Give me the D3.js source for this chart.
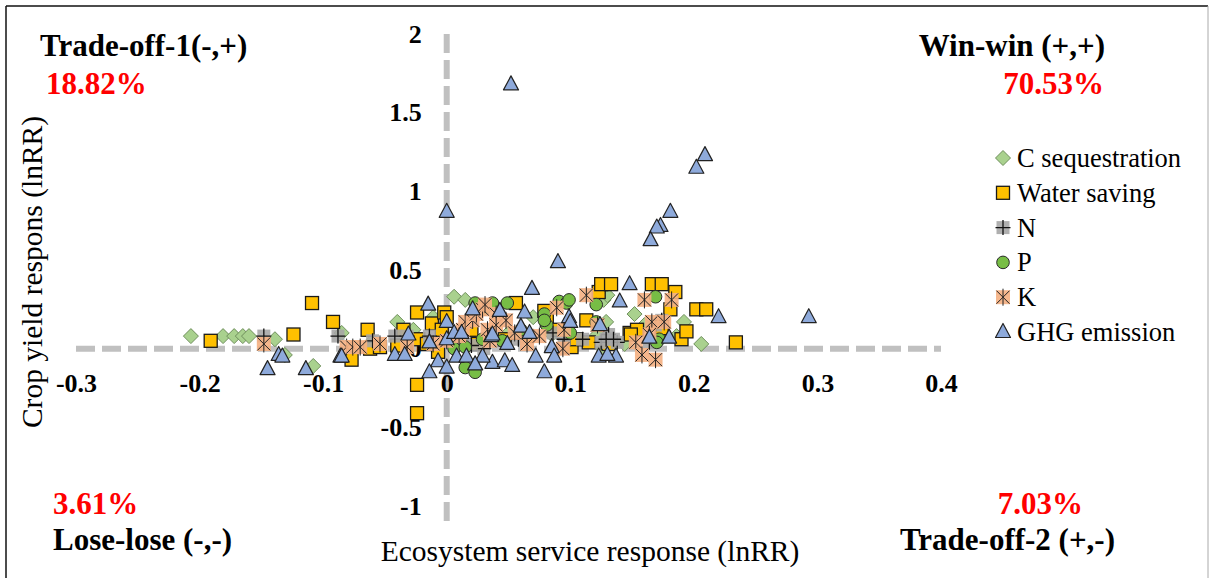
<!DOCTYPE html>
<html>
<head>
<meta charset="utf-8">
<script src="https://cdn.jsdelivr.net/npm/d3@7"></script>
<style>
body { margin: 0; background: #fff; }
</style>
</head>
<body>
<svg id="chart" width="1210" height="578"></svg>
<script>
// series names + values [lnRR ecosystem, lnRR yield]
var seriesNames = ['C sequestration', 'Water saving', 'N', 'P', 'K', 'GHG emission'];

var cSeq = [[-0.207,0.08],[-0.181,0.08],[-0.172,0.08],[-0.165,0.08],[-0.16,0.08],[-0.139,0.06],[-0.131,-0.04],[-0.108,-0.11],
    [-0.085,0.1],[-0.04,0.17],[-0.027,0.12],[-0.011,0.2],[0.006,0.33],[0.015,0.31],[0.03,0.05],[0.05,0.1],[0.085,0.09],
    [0.096,0.12],[0.122,0.09],[0.127,0.31],[0.13,0.34],[0.129,0.17],[0.144,0.03],[0.152,0.22],[0.16,0.15],[0.186,0.08],
    [0.192,0.17],[0.206,0.03],[0.127,0.0],[0.07,0.2],[-0.06,0.05]];

var water = [[-0.191,0.05],[-0.124,0.09],[-0.109,0.29],[-0.092,0.17],[-0.077,-0.07],[-0.064,0.12],[-0.062,0.0],[-0.054,0.01],
    [-0.035,0.12],[-0.024,0.23],[-0.023,0.06],[-0.024,-0.23],[-0.024,-0.41],[-0.012,0.16],[-0.004,0.12],[-0.002,0.23],
    [-0.007,-0.02],[-0.016,0.03],[0.0,0.2],[0.012,0.05],[0.025,0.03],[0.047,0.06],[0.056,0.29],[0.079,0.24],[0.081,0.18],
    [0.101,0.01],[0.105,0.06],[0.113,0.18],[0.115,0.04],[0.123,0.36],[0.125,0.41],[0.133,0.41],[0.131,0.03],[0.148,0.10],
    [0.154,0.12],[0.149,0.09],[0.166,0.41],[0.174,0.41],[0.174,0.13],[0.185,0.36],[0.181,0.25],[0.19,0.06],[0.194,0.11],
    [0.202,0.25],[0.21,0.25],[0.234,0.04],[0.02,0.12],[0.065,0.08],[0.09,0.12],[-0.04,0.02]];

var nitro = [[-0.148,0.08],[-0.088,0.08],[-0.042,0.08],[-0.032,0.08],[-0.014,0.08],[0.007,0.06],[0.03,0.0],[0.058,0.06],
    [0.086,0.1],[0.095,0.06],[0.11,0.06],[0.125,0.04],[0.131,0.09],[0.138,0.04],[0.129,0.06],[0.135,0.06],[0.169,0.15],
    [0.174,0.18],[0.164,0.04],[-0.06,0.05],[0.02,0.02]];

var phos = [[0.023,0.29],[0.037,0.29],[0.049,0.29],[0.006,0.0],[0.015,0.01],[0.015,-0.12],[0.023,-0.15],[0.029,0.06],
    [0.045,0.05],[0.079,0.22],[0.081,0.15],[0.079,0.18],[0.091,0.3],[0.097,0.29],[0.099,0.31],[0.121,0.17],[0.121,0.28],
    [0.169,0.33],[0.172,0.06],[0.17,0.04],[0.06,0.12],[0.1,0.1],[0.03,0.25]];

var potas = [[-0.148,0.03],[-0.081,0.01],[-0.076,0.01],[-0.07,0.01],[-0.054,0.03],[-0.032,0.01],[-0.011,0.03],[0.013,0.12],
    [0.015,0.17],[0.021,0.18],[0.024,0.22],[0.029,0.25],[0.031,0.28],[0.033,0.12],[0.04,0.22],[0.04,0.15],[0.048,0.18],
    [0.035,0.05],[0.065,0.03],[0.089,0.26],[0.095,0.12],[0.094,0.0],[0.075,0.08],[0.113,0.34],[0.122,0.15],[0.16,0.31],
    [0.182,0.31],[0.166,0.17],[0.176,0.17],[0.164,0.09],[0.153,0.04],[0.158,-0.04],[0.169,-0.07],[0.0,0.05],[0.055,0.1],[0.01,0.08]];

var ghg = [[0.052,1.68],[0.0,0.87],[0.09,0.55],[0.209,1.23],[0.202,1.15],[0.181,0.87],[0.173,0.78],[0.170,0.77],[0.165,0.69],
    [0.293,0.20],[0.220,0.20],[0.14,0.30],[0.148,0.41],[0.164,0.07],[0.18,0.07],[0.137,-0.05],[0.123,-0.05],[0.124,0.15],
    [0.069,0.38],[0.043,0.24],[0.063,0.23],[0.06,0.14],[0.067,0.10],[0.036,0.08],[0.049,0.03],[0.037,-0.09],[0.047,-0.08],
    [0.053,-0.11],[0.072,-0.05],[0.079,-0.15],[0.085,0.01],[0.087,-0.05],[0.099,0.20],[0.1,0.17],[-0.015,0.28],[-0.086,-0.05],
    [-0.042,-0.04],[-0.034,-0.04],[-0.031,0.09],[-0.014,0.04],[0,0.17],[0,0.06],[-0.007,-0.08],[-0.014,-0.15],[0,-0.12],
    [0.006,0.10],[0.012,0.10],[0.008,-0.05],[0.016,-0.05],[0.029,-0.05],[0.023,-0.1],[0.037,0.09],[-0.136,-0.04],
    [-0.133,-0.05],[-0.145,-0.13],[-0.114,-0.13],[-0.085,-0.05],[0.021,0.25],[0.13,-0.04]];

var xTicks = [-0.3, -0.2, -0.1, 0, 0.1, 0.2, 0.3, 0.4];
var yTicks = [-1, -0.5, 0, 0.5, 1, 1.5, 2];

var quadrants = [
    {name: 'Trade-off-1(-,+)', pct: '18.82%'},
    {name: 'Win-win (+,+)', pct: '70.53%'},
    {name: 'Lose-lose (-,-)', pct: '3.61%'},
    {name: 'Trade-off-2 (+,-)', pct: '7.03%'}
];

var serif = '"Liberation Serif", "Times New Roman", serif';

var svg = d3.select('#chart');

var x = d3.scaleLinear().domain([-0.3, 0.4]).range([76, 941]);
var y = d3.scaleLinear().domain([-1, 2]).range([506, 34]);

// outer frame
svg.append('line').attr('x1', 6).attr('x2', 1208).attr('y1', 6).attr('y2', 6).attr('stroke', '#111').attr('stroke-width', 1.5);
svg.append('line').attr('x1', 6).attr('x2', 6).attr('y1', 6).attr('y2', 580).attr('stroke', '#111').attr('stroke-width', 1.5);
svg.append('line').attr('x1', 1208).attr('x2', 1208).attr('y1', 6).attr('y2', 580).attr('stroke', '#aaa').attr('stroke-width', 1);

// dashed zero lines
var dashStyle = function(sel) {
    sel.attr('stroke', '#c0c0c0').attr('stroke-width', 6).attr('stroke-dasharray', '19,7');
};
svg.append('line').attr('x1', x(-0.3)).attr('x2', x(0.4)).attr('y1', y(0)).attr('y2', y(0)).call(dashStyle);
svg.append('line').attr('x1', x(0)).attr('x2', x(0)).attr('y1', y(2)).attr('y2', y(-1.12)).call(dashStyle);

// tick labels (no axis lines, Excel style)
var fmt = function(d) { return String(d); };
var gx = svg.append('g').attr('transform', 'translate(0,' + y(0) + ')')
    .call(d3.axisBottom(x).tickValues(xTicks).tickFormat(fmt).tickSize(0).tickPadding(25));
var gy = svg.append('g').attr('transform', 'translate(' + x(0) + ',0)')
    .call(d3.axisLeft(y).tickValues(yTicks).tickFormat(fmt).tickSize(0).tickPadding(25));
[gx, gy].forEach(function(g) {
    g.attr('font-family', null).attr('font-size', null);
    g.select('.domain').remove();
    g.selectAll('text').attr('fill', '#000').style('font-family', serif)
        .style('font-size', '26px').style('font-weight', 'bold');
});

// marker drawing
var colors = {
    diamond: ['#a9d18e', '#6f8f5c'],
    square: ['#ffc000', '#1a1a1a'],
    plus: ['#a6a6a6', '#111'],
    circle: ['#77bd45', '#2a2a2a'],
    star: ['#f4b183', '#222'],
    tri: ['#8eaadb', '#222']
};

function drawMarker(g, type, cx, cy) {
    var c = colors[type];
    if (type === 'diamond') {
        g.append('path').attr('d', 'M' + cx + ',' + (cy - 7.5) + 'L' + (cx + 7.5) + ',' + cy + 'L' + cx + ',' + (cy + 7.5) + 'L' + (cx - 7.5) + ',' + cy + 'Z')
            .attr('fill', c[0]).attr('stroke', c[1]).attr('stroke-width', 1);
    } else if (type === 'square') {
        g.append('rect').attr('x', cx - 6.5).attr('y', cy - 6.5).attr('width', 13).attr('height', 13)
            .attr('fill', c[0]).attr('stroke', c[1]).attr('stroke-width', 1.3);
    } else if (type === 'plus') {
        g.append('rect').attr('x', cx - 6.5).attr('y', cy - 6.5).attr('width', 13).attr('height', 13)
            .attr('fill', c[0]).attr('opacity', 0.9);
        g.append('path').attr('d', 'M' + (cx - 7.5) + ',' + cy + 'H' + (cx + 7.5) + 'M' + cx + ',' + (cy - 7.5) + 'V' + (cy + 7.5))
            .attr('stroke', c[1]).attr('stroke-width', 1.3);
    } else if (type === 'circle') {
        g.append('circle').attr('cx', cx).attr('cy', cy).attr('r', 6.3)
            .attr('fill', c[0]).attr('stroke', c[1]).attr('stroke-width', 1);
    } else if (type === 'star') {
        g.append('rect').attr('x', cx - 7).attr('y', cy - 7).attr('width', 14).attr('height', 14)
            .attr('fill', c[0]).attr('opacity', 0.92);
        g.append('path').attr('d', 'M' + (cx - 6.5) + ',' + (cy - 6.5) + 'L' + (cx + 6.5) + ',' + (cy + 6.5) +
            'M' + (cx + 6.5) + ',' + (cy - 6.5) + 'L' + (cx - 6.5) + ',' + (cy + 6.5) + 'M' + cx + ',' + (cy - 8.5) + 'V' + (cy + 8.5))
            .attr('stroke', c[1]).attr('stroke-width', 1);
    } else if (type === 'tri') {
        g.append('path').attr('d', 'M' + cx + ',' + (cy - 8.5) + 'L' + (cx + 7.5) + ',' + (cy + 5.5) + 'L' + (cx - 7.5) + ',' + (cy + 5.5) + 'Z')
            .attr('fill', c[0]).attr('stroke', c[1]).attr('stroke-width', 1.2).attr('stroke-linejoin', 'round');
    }
}

var seriesData = [cSeq, water, nitro, phos, potas, ghg];
var seriesType = ['diamond', 'square', 'plus', 'circle', 'star', 'tri'];

// points, series order like excel (GHG on top)
seriesData.forEach(function(data, i) {
    var g = svg.append('g').attr('class', 'series-' + i);
    data.forEach(function(d) {
        drawMarker(g, seriesType[i], x(d[0]), y(d[1]));
    });
});

// legend
var legend = svg.append('g').attr('transform', 'translate(1003,158)');
seriesNames.forEach(function(name, i) {
    var row = legend.append('g').attr('transform', 'translate(0,' + (i * 34.8) + ')');
    drawMarker(row, seriesType[i], 0, 0);
    row.append('text').attr('x', 14).attr('y', 9).attr('fill', '#000')
        .style('font-family', serif).style('font-size', '26.5px').text(name);
});

// quadrant labels
var qPos = [
    {x: 40, y: 56, py: 94, anchor: 'start', px: 46},
    {x: 1105, y: 56, py: 94, anchor: 'end', px: 1104},
    {x: 53, y: 550, py: 514, anchor: 'start', px: 53},
    {x: 1115, y: 550, py: 514, anchor: 'end', px: 1083}
];
quadrants.forEach(function(q, i) {
    var p = qPos[i];
    svg.append('text').attr('x', p.x).attr('y', p.y).attr('text-anchor', p.anchor)
        .style('font-family', serif).style('font-size', '31px').style('font-weight', 'bold')
        .attr('fill', '#000').text(q.name);
    svg.append('text').attr('x', p.px).attr('y', p.py).attr('text-anchor', p.anchor)
        .style('font-family', serif).style('font-size', '31px').style('font-weight', 'bold')
        .attr('fill', '#ff0000').text(q.pct);
});

// axis titles
svg.append('text').attr('x', 590).attr('y', 561).attr('text-anchor', 'middle').attr('fill', '#000')
    .style('font-family', serif).style('font-size', '29.5px').text('Ecosystem service response (lnRR)');
svg.append('text').attr('transform', 'translate(42,272) rotate(-90)').attr('text-anchor', 'middle').attr('fill', '#000')
    .style('font-family', serif).style('font-size', '29.5px').text('Crop yield respons (lnRR)');
</script>
</body>
</html>
